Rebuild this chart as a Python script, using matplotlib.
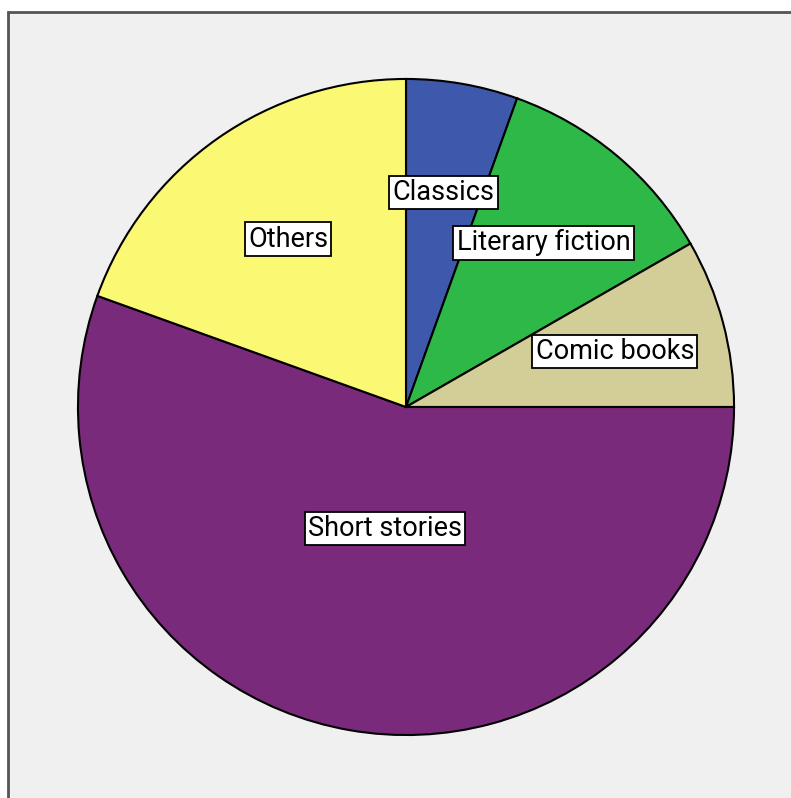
import numpy as np
import matplotlib
matplotlib.use("Agg")
import matplotlib.pyplot as plt
from matplotlib.patches import Rectangle

genres = ["Classics", "Literary fiction", "Comic books", "Short stories", "Others"]
shares = [5.5, 11.2, 8.3, 55.5, 19.5]
colors = ["#3E58AC", "#2EB848", "#D3CE97", "#7A2A7A", "#FBF873"]

W, H = 791, 798
fig = plt.figure(figsize=(W / 100, H / 100), dpi=100)
fig.patch.set_facecolor("white")

# grey chart panel with dark frame, running off the right/bottom edge
panel = Rectangle((8 / W, -0.05), 1.1, 1 - 12 / H + 0.05, transform=fig.transFigure,
                  facecolor="#F0F0F0", edgecolor="#555555", linewidth=2, zorder=-10)
fig.patches.append(panel)

cx, cy, r = 406, 407, 330
ax = fig.add_axes([(cx - r) / W, (H - cy - r) / H, 2 * r / W, 2 * r / H])
ax.set_zorder(5)
ax.patch.set_visible(False)
ax.axis("off")

wedges, _ = ax.pie(shares, colors=colors, startangle=90, counterclock=False,
                   radius=1, center=(0, 0), frame=False,
                   wedgeprops=dict(edgecolor="black", linewidth=1.5))
ax.set_xlim(-1.006, 1.006)
ax.set_ylim(-1.006, 1.006)

# labels sit on each sector's centroid
total = sum(shares)
start = 90.0
for name, v in zip(genres, shares):
    span = 360.0 * v / total
    mid = np.deg2rad(start - span / 2)
    th = np.deg2rad(span)
    rc = 4 * np.sin(th / 2) / (3 * th)
    ax.text(rc * np.cos(mid), rc * np.sin(mid), name, ha="center", va="center",
            fontsize=19.5, family=["Roboto", "DejaVu Sans"], color="black",
            bbox=dict(boxstyle="square,pad=0.12", facecolor="white",
                      edgecolor="black", linewidth=1.3))
    start -= span

fig.savefig("out.png", dpi=100)
